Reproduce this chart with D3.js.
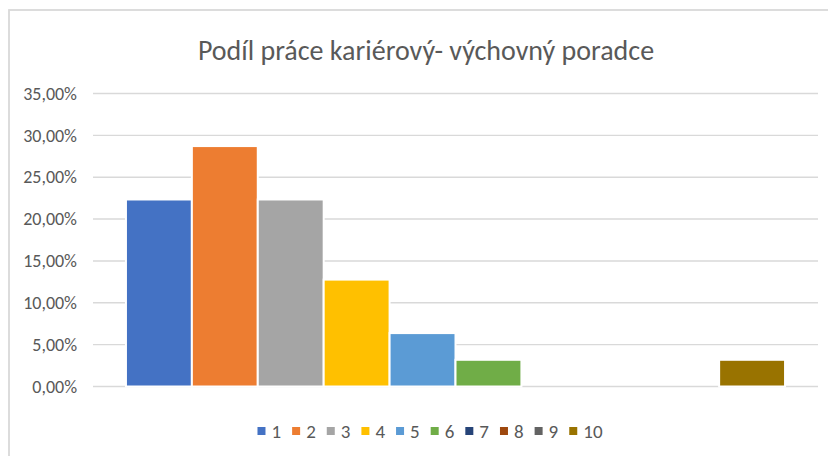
<!DOCTYPE html>
<html>
<head>
<meta charset="utf-8">
<script src="https://cdn.jsdelivr.net/npm/d3@7"></script>
<style>
  body { margin: 0; background: #fff; }
  text { font-family: Calibri, Carlito, Lato, "Open Sans", sans-serif; fill: #595959; }
</style>
</head>
<body>
<svg id="chart" width="828" height="456"></svg>
<script>
// data
const title = "Podíl práce kariérový- výchovný poradce";
const seriesNames = ["1", "2", "3", "4", "5", "6", "7", "8", "9", "10"];
const seriesValues = [0.2234, 0.2872, 0.2234, 0.1277, 0.0638, 0.0319, 0, 0, 0, 0.0319];
const seriesColors = ["#4472C4", "#ED7D31", "#A5A5A5", "#FFC000", "#5B9BD5",
                      "#70AD47", "#264478", "#9E480E", "#636363", "#997300"];
const yTicks = [0, 0.05, 0.10, 0.15, 0.20, 0.25, 0.30, 0.35];

const plot = {left: 93, right: 818, top: 93.5, bottom: 386.5};

const svg = d3.select("#chart");

// chart area border (cut off on the right and bottom like the source)
svg.append("rect")
    .attr("x", 9).attr("y", 10)
    .attr("width", 900).attr("height", 500)
    .attr("fill", "#fff")
    .attr("stroke", "#d9d9d9")
    .attr("stroke-width", 1.8);

svg.append("text")
    .attr("x", 426)
    .attr("y", 60)
    .attr("text-anchor", "middle")
    .style("font-size", "28px")
    .style("font-weight", 300)
    .text(title);

const y = d3.scaleLinear().domain([0, 0.35]).range([plot.bottom, plot.top]);
const x = d3.scaleBand().domain(seriesNames)
    .range([plot.left, plot.right])
    .paddingInner(0).paddingOuter(0.5);

const czech = d3.formatLocale({decimal: ",", thousands: " ", grouping: [3], currency: ["", " Kč"]});
const fmt = czech.format(".2%");

// gridlines
svg.append("g")
    .selectAll("line")
    .data(yTicks)
    .join("line")
    .attr("x1", plot.left).attr("x2", plot.right)
    .attr("y1", d => y(d)).attr("y2", d => y(d))
    .attr("stroke", "#d9d9d9")
    .attr("stroke-width", 1.4);

// y axis labels
const yAxis = svg.append("g")
    .attr("transform", `translate(${plot.left},0)`)
    .call(d3.axisLeft(y).tickValues(yTicks).tickFormat(fmt).tickSize(0).tickPadding(16));
yAxis.select(".domain").remove();
yAxis.selectAll("text")
    .style("font-size", "18px")
    .attr("fill", "#595959");

// bars
svg.append("g")
    .selectAll("rect")
    .data(seriesValues)
    .join("rect")
    .attr("x", (d, i) => x(seriesNames[i]))
    .attr("y", d => y(d))
    .attr("width", x.bandwidth())
    .attr("height", d => y(0) - y(d))
    .attr("fill", (d, i) => seriesColors[i])
    .attr("stroke", "#fff")
    .attr("stroke-width", d => d > 0 ? 2 : 0);

// legend
const legend = svg.append("g");
const items = legend.selectAll("g")
    .data(seriesNames)
    .join("g");
items.append("rect")
    .attr("y", 427).attr("width", 8).attr("height", 8)
    .attr("fill", (d, i) => seriesColors[i]);
items.append("text")
    .attr("x", 14).attr("y", 438)
    .style("font-size", "19px")
    .text(d => d);

let pos = 0;
items.each(function () {
    const w = d3.select(this).select("text").node().getComputedTextLength();
    d3.select(this).attr("transform", `translate(${pos},0)`);
    pos += 14 + w + 11;
});
legend.attr("transform", `translate(${430 - (pos - 11) / 2},0)`);
</script>
</body>
</html>
